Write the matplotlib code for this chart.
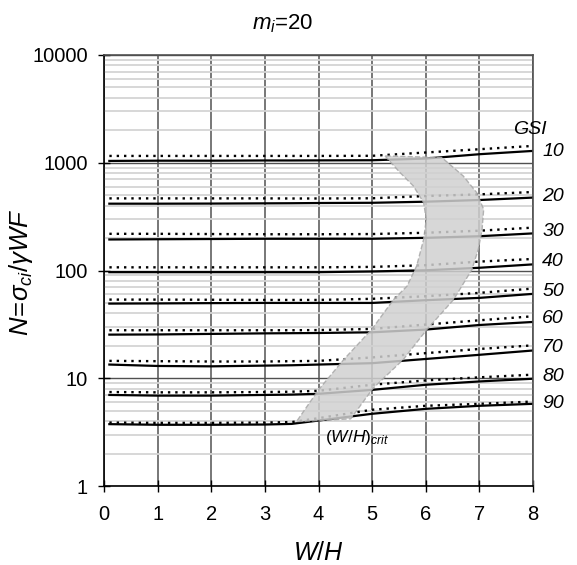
import matplotlib
matplotlib.use("Agg")
import matplotlib.pyplot as plt
import numpy as np

plt.rcParams['font.family'] = ['Liberation Sans', 'DejaVu Sans']
plt.rcParams['mathtext.fontset'] = 'custom'
plt.rcParams['mathtext.rm'] = 'Liberation Sans'
plt.rcParams['mathtext.it'] = 'Liberation Sans:italic'

# W/H positions of the sampled points
wh = [0.1, 1, 2, 3, 3.5, 4, 5, 6, 7, 8]

gsi_labels = ['10', '20', '30', '40', '50', '60', '70', '80', '90']

solid = {
    '10': [1040, 1045, 1045, 1050, 1050, 1052, 1055, 1094, 1200, 1288],
    '20': [417, 417, 418, 420, 421, 423, 425, 435, 451, 475],
    '30': [194, 195, 196, 197, 197, 197, 197, 201, 208, 221],
    '40': [96.5, 96.5, 96.5, 96.5, 96.5, 96.5, 98, 100.5, 106, 114],
    '50': [49.3, 49.5, 49.8, 50, 50, 50, 50, 53, 55.7, 60.7],
    '60': [25.4, 25.5, 25.8, 26.1, 26.2, 26.3, 26.7, 28.3, 31.2, 33.3],
    '70': [13.4, 13.0, 12.9, 13.1, 13.2, 13.4, 13.8, 15.1, 16.5, 18.1],
    '80': [7.0, 6.9, 6.9, 7.0, 7.05, 7.17, 7.8, 8.7, 9.34, 9.9],
    '90': [3.75, 3.7, 3.7, 3.72, 3.77, 4.05, 4.68, 5.2, 5.55, 5.79],
}
dotted = {
    '10': [1157, 1157, 1157, 1157, 1157, 1157, 1160, 1245, 1335, 1433],
    '20': [467, 467, 467, 467, 466, 466, 468, 491, 509, 535],
    '30': [219, 219, 218, 217, 217, 217, 218, 224, 234, 250],
    '40': [107, 107, 107, 107, 107, 107, 108, 112, 121, 128],
    '50': [53.7, 53.7, 53.5, 53.3, 53.3, 53.3, 54.6, 57.7, 62, 68],
    '60': [27.9, 27.9, 27.9, 27.9, 27.9, 28, 28.7, 31.5, 34.5, 37.6],
    '70': [14.5, 14.4, 14.3, 14.3, 14.4, 14.5, 15.6, 17.1, 18.7, 20.2],
    '80': [7.45, 7.4, 7.4, 7.45, 7.5, 7.65, 8.7, 9.55, 10.2, 10.8],
    '90': [3.88, 3.85, 3.85, 3.88, 3.92, 4.26, 5.1, 5.55, 5.79, 6.08],
}
# label y-positions (N values) at the right edge
label_y = [1267, 484, 229, 121, 64.5, 35.5, 19.1, 10.3, 5.86]
gsi_title_y = 2014

# (W/H)crit band outline
crit_x = [5.24, 5.52, 5.77, 5.96, 6.01, 5.96, 5.83, 5.65, 5.40, 4.99, 4.47, 4.0, 3.59,
          4.6, 5.02, 5.58, 6.02, 6.52, 6.86, 6.98, 7.05, 7.08, 6.95, 6.70, 6.30]
crit_y = [1157, 811, 608, 427, 298, 194, 110, 71.5, 53.7, 28.3, 14.9, 7.8, 3.96,
          4.2, 8.1, 14.9, 28.3, 53.7, 102, 157, 240, 369, 528, 753, 1117]

fig = plt.figure(figsize=(5.77, 5.65), dpi=100)
ax = fig.add_axes([104/577, 79/565, 429/577, 431/565])
ax.set_yscale('log')
ax.set_xlim(0, 8)
ax.set_ylim(1, 10000)

# grid
ax.yaxis.grid(True, which='minor', color='#d4d4d4', lw=1.3, zorder=0)
ax.yaxis.grid(True, which='major', color='#505050', lw=1.0, zorder=0.5)
ax.xaxis.grid(True, which='major', color='#606060', lw=1.2, zorder=0.5)

for g in gsi_labels:
    ax.plot(wh, dotted[g], color='black', lw=1.7, ls=(0, (1, 2.1)), zorder=2)
    ax.plot(wh, solid[g], color='black', lw=1.6, zorder=2)

ax.fill(crit_x, crit_y, facecolor='#d0d0d0', alpha=0.85, edgecolor='#a8a8a8',
        lw=1.0, ls='--', zorder=3)

for g, yv in zip(gsi_labels, label_y):
    ax.text(8.17, yv, g, fontsize=14, style='italic', va='center', ha='left',
            clip_on=False)
ax.text(7.63, gsi_title_y, 'GSI', fontsize=14, style='italic', va='center',
        ha='left', clip_on=False)

ax.text(4.13, 2.8, r'$(W/H)_{crit}$', fontsize=12.5, va='center', ha='left', zorder=4)

ax.set_xticks(range(0, 9))
ax.set_yticks([1, 10, 100, 1000, 10000])
ax.set_yticklabels(['1', '10', '100', '1000', '10000'])
ax.tick_params(axis='both', which='major', labelsize=14.5, direction='inout',
               length=8, width=1, color='black')
ax.tick_params(axis='y', which='minor', length=0)
ax.tick_params(axis='x', pad=10)
ax.tick_params(axis='y', pad=7.5)

for s in ['left', 'bottom']:
    ax.spines[s].set_color('black')
    ax.spines[s].set_linewidth(1.2)
for s in ['top', 'right']:
    ax.spines[s].set_color('#505050')
    ax.spines[s].set_linewidth(1.2)

ax.set_xlabel(r'$W/H$', fontsize=18, labelpad=12)
fig.text(21/577, (565-272)/565, r'$N\!=\!\sigma_{ci}/\gamma WF$', fontsize=18.5,
         rotation=90, ha='center', va='center')
fig.text(283/577, (565-24)/565, r'$m_i$=20', fontsize=16, ha='center', va='center')

fig.savefig('out.png', dpi=100)
